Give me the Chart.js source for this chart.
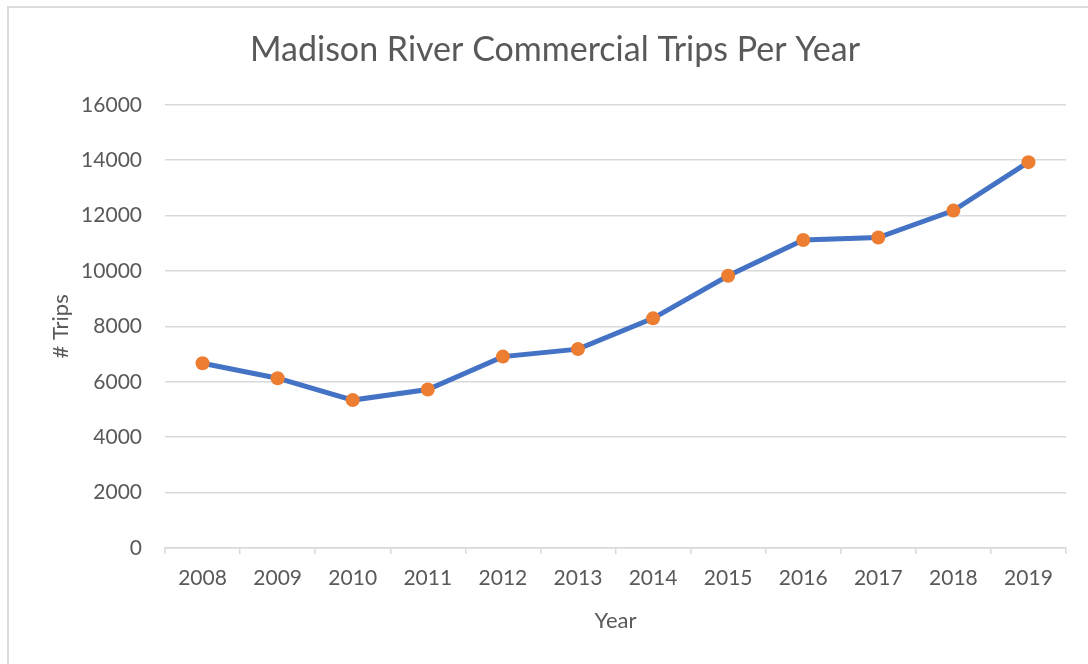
<!DOCTYPE html>
<html>
<head>
<meta charset="utf-8">
<script src="https://cdn.jsdelivr.net/npm/chart.js@4.4.0/dist/chart.umd.min.js"></script>
<style>
  html, body { margin: 0; padding: 0; background: #fff; overflow: hidden; }
  #frame { position: absolute; left: 7px; top: 6px; width: 1200px; height: 800px; border: 2px solid #dcdcdc; }
  #wrap { position: absolute; left: 0; top: 0; width: 1088px; height: 664px; }
</style>
</head>
<body>
<div id="frame"></div>
<div id="wrap"><canvas id="chart"></canvas></div>
<script>
const years = ['2008', '2009', '2010', '2011', '2012', '2013', '2014', '2015', '2016', '2017', '2018', '2019'];
const trips = [6670, 6130, 5340, 5720, 6910, 7180, 8290, 9830, 11120, 11210, 12180, 13930];
const yTicks = [0, 2000, 4000, 6000, 8000, 10000, 12000, 14000, 16000];

const textColor = '#595959';
const fontFamily = 'Lato, "Open Sans", sans-serif';

let ctx = document.getElementById('chart').getContext('2d');
new Chart(ctx, {
    type: 'line',
    data: {
        labels: years,
        datasets: [{
            label: '# Trips',
            data: trips,
            borderColor: '#4472C4',
            borderWidth: 5,
            pointBackgroundColor: '#ED7D31',
            pointBorderColor: '#ED7D31',
            pointRadius: 7,
            pointBorderWidth: 0,
            tension: 0
        }]
    },
    options: {
        responsive: true,
        maintainAspectRatio: false,
        animation: false,
        layout: { padding: { left: 44, right: 22, top: 0, bottom: 0 } },
        plugins: {
            legend: { display: false },
            tooltip: { enabled: false },
            title: {
                display: true,
                text: 'Madison River Commercial Trips Per Year',
                color: textColor,
                font: { family: fontFamily, size: 34, weight: 'normal' },
                padding: { top: 30, bottom: 34 }
            }
        },
        scales: {
            x: {
                offset: true,
                grid: { display: true, drawOnChartArea: false, drawTicks: true, tickLength: 6, offset: true, color: '#d9d9d9', lineWidth: 1.5 },
                border: { display: true, color: '#d9d9d9', width: 1.5 },
                ticks: { color: textColor, font: { family: fontFamily, size: 21 }, padding: 12, maxRotation: 0 },
                title: { display: true, text: 'Year', color: textColor, font: { family: fontFamily, size: 22 }, padding: { top: 4, bottom: 30 } },
                afterFit: function(scale) { scale.height = 116; }
            },
            y: {
                min: 0,
                max: 16000,
                afterBuildTicks: function(scale) { scale.ticks = yTicks.map(v => ({ value: v })); },
                grid: { color: '#d9d9d9', lineWidth: 1.5, drawTicks: false },
                border: { display: false },
                ticks: { color: textColor, font: { family: fontFamily, size: 21 }, padding: 23, callback: v => String(v) },
                title: { display: true, text: '# Trips', color: textColor, font: { family: fontFamily, size: 22 }, padding: { top: 4, bottom: 4 } },
                afterFit: function(scale) { scale.width = 121; }
            }
        }
    }
});
</script>
</body>
</html>
